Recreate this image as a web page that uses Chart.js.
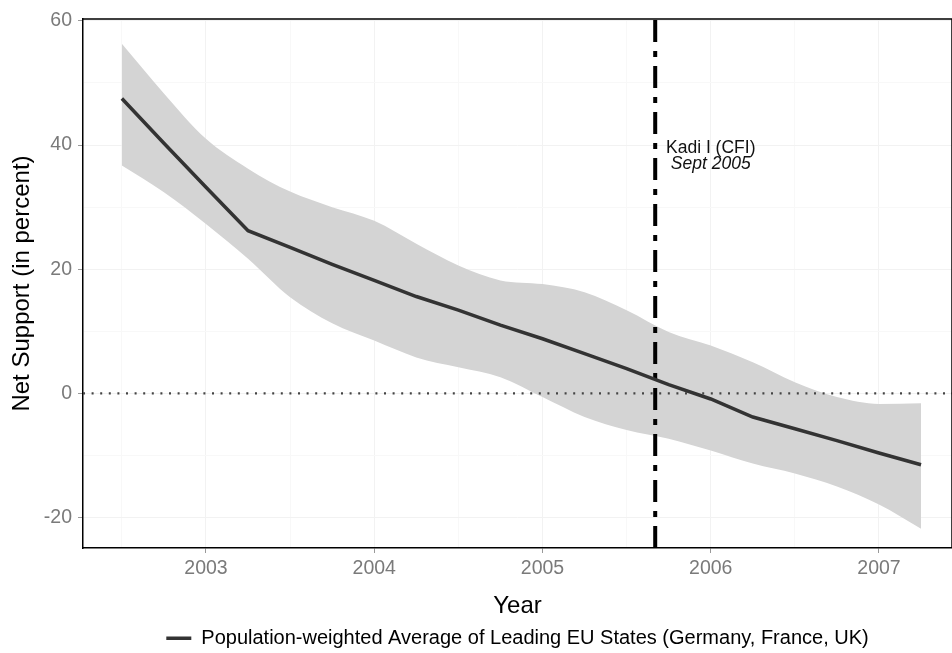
<!DOCTYPE html>
<html>
<head>
<meta charset="utf-8">
<script src="https://cdn.jsdelivr.net/npm/chart.js@4.4.1/dist/chart.umd.min.js"></script>
<style>
  html, body { margin:0; padding:0; background:#fff; overflow:hidden; }
  #wrap { width:952px; height:653px; position:relative; }
</style>
</head>
<body>
<div id="wrap"><canvas id="chart"></canvas></div>
<script>
// quarterly points
const years = [2002.5, 2002.75, 2003, 2003.25, 2003.5, 2003.75, 2004, 2004.25, 2004.5, 2004.75,
               2005, 2005.25, 2005.5, 2005.75, 2006, 2006.25, 2006.5, 2006.75, 2007, 2007.25];
const netSupport = [47.5, 40.3, 33.2, 26.2, 23.5, 20.8, 18.2, 15.6, 13.4, 11.0,
                    8.8, 6.4, 4.0, 1.4, -0.9, -3.8, -5.7, -7.6, -9.6, -11.5];
const upperBand = [56.3, 48.3, 41.0, 36.2, 32.5, 30.0, 27.8, 24.1, 20.6, 18.2,
                   17.6, 16.3, 13.4, 9.9, 7.7, 5.0, 1.8, -0.6, -1.7, -1.6];
const lowerBand = [36.7, 32.4, 27.3, 21.7, 15.5, 11.3, 8.5, 5.8, 4.2, 2.6,
                   -0.6, -3.8, -5.9, -7.3, -9.2, -11.3, -12.9, -15.0, -17.9, -21.8];

const xTicks = [2002.5, 2003, 2003.5, 2004, 2004.5, 2005, 2005.5, 2006, 2006.5, 2007];
const yTicks = [-20, -10, 0, 10, 20, 30, 40, 50, 60];
const xMin = 2002.269, xMax = 2007.434;
const yMin = -24.9, yMax = 60.3;

const kadiDate = 2005.67;
const annotX = 2006.0;
const annotLines = ['Kadi I (CFI)', 'Sept 2005'];
const annotY = [39.55, 36.85];

const seriesLabel = 'Population-weighted Average of Leading EU States (Germany, France, UK)';
const FONT = '"Liberation Sans", Arial, sans-serif';

const pts = arr => years.map((x, i) => ({x, y: arr[i]}));

// top/right panel border + text note
const panelExtras = {
  id: 'panelExtras',
  afterDatasetsDraw(chart){
    const {ctx, chartArea:a, scales} = chart;
    ctx.save();
    ctx.fillStyle = '#111';
    ctx.textAlign = 'center';
    ctx.textBaseline = 'middle';
    const x = scales.x.getPixelForValue(annotX);
    ctx.font = '17.5px ' + FONT;
    ctx.fillText(annotLines[0], x, scales.y.getPixelForValue(annotY[0]));
    ctx.font = 'italic 17.5px ' + FONT;
    ctx.fillText(annotLines[1], x, scales.y.getPixelForValue(annotY[1]));
    ctx.strokeStyle = '#000';
    ctx.lineWidth = 1.5;
    ctx.beginPath();
    ctx.moveTo(a.left, a.top); ctx.lineTo(a.right, a.top); ctx.lineTo(a.right, a.bottom);
    ctx.stroke();
    ctx.restore();
  }
};

new Chart(document.getElementById('chart'), {
  type: 'line',
  data: {
    datasets: [
      { label: seriesLabel, data: pts(netSupport), borderColor: '#333', borderWidth: 3.5,
        pointRadius: 0, tension: 0, fill: false, order: 0 },
      { label: 'upper', data: pts(upperBand), borderWidth: 0, borderColor: 'rgba(0,0,0,0)',
        pointRadius: 0, cubicInterpolationMode: 'monotone', fill: false, order: 5 },
      { label: 'lower', data: pts(lowerBand), borderWidth: 0, borderColor: 'rgba(0,0,0,0)',
        backgroundColor: '#d4d4d4', pointRadius: 0, cubicInterpolationMode: 'monotone',
        fill: '-1', order: 5 },
      { label: 'kadi', data: [{x: kadiDate, y: yMin}, {x: kadiDate, y: yMax}],
        borderColor: '#000', borderWidth: 4, borderDash: [22, 9, 6, 9], borderCapStyle: 'butt',
        pointRadius: 0, fill: false, order: 1 },
      { label: 'zero', data: [{x: xMin, y: 0}, {x: xMax, y: 0}],
        borderColor: '#444', borderWidth: 2.2, borderDash: [2, 6.6], borderCapStyle: 'butt',
        pointRadius: 0, fill: false, order: 2 }
    ]
  },
  options: {
    responsive: true,
    maintainAspectRatio: false,
    animation: false,
    layout: { padding: { top: 19, right: 0, left: 0, bottom: 0 } },
    plugins: {
      tooltip: { enabled: false },
      legend: {
        position: 'bottom',
        fullSize: false,
        maxHeight: 27.5,
        labels: {
          filter: item => item.datasetIndex === 0,
          usePointStyle: true, pointStyle: 'line', pointStyleWidth: 25,
          color: '#000', padding: 2.75,
          font: { family: FONT, size: 20 }
        }
      }
    },
    scales: {
      x: {
        type: 'linear', min: xMin, max: xMax,
        afterBuildTicks: s => { s.ticks = xTicks.map(v => ({value: v})); },
        afterFit: s => { s.height = 77.5; },
        ticks: { color: '#7a7a7a', font: { family: FONT, size: 19.5 }, padding: 4, maxRotation: 0,
                 callback: v => Number.isInteger(v) ? String(v) : '' },
        grid: { drawOnChartArea: true, tickLength: 5,
                color: c => Number.isInteger(c.tick && c.tick.value) ? '#f2f2f2' : '#f8f8f8',
                tickColor: c => Number.isInteger(c.tick && c.tick.value) ? '#999' : 'rgba(0,0,0,0)' },
        border: { display: true, color: '#000', width: 1.5 },
        title: { display: true, text: 'Year', color: '#000', font: { family: FONT, size: 24 },
                 padding: { top: 0, bottom: 5 } }
      },
      y: {
        min: yMin, max: yMax,
        afterBuildTicks: s => { s.ticks = yTicks.map(v => ({value: v})); },
        afterFit: s => { s.width = 83; },
        ticks: { color: '#7a7a7a', font: { family: FONT, size: 19.5 }, padding: 6,
                 callback: v => v % 20 === 0 ? String(v) : '' },
        grid: { tickLength: 5,
                color: c => (c.tick && c.tick.value % 20 === 0) ? '#f2f2f2' : '#f8f8f8',
                tickColor: c => (c.tick && c.tick.value % 20 === 0) ? '#999' : 'rgba(0,0,0,0)' },
        border: { display: true, color: '#000', width: 1.5 },
        title: { display: true, text: 'Net Support (in percent)', color: '#000',
                 font: { family: FONT, size: 24 }, padding: { top: 8, bottom: 0 } }
      }
    }
  },
  plugins: [panelExtras]
});
</script>
</body>
</html>
